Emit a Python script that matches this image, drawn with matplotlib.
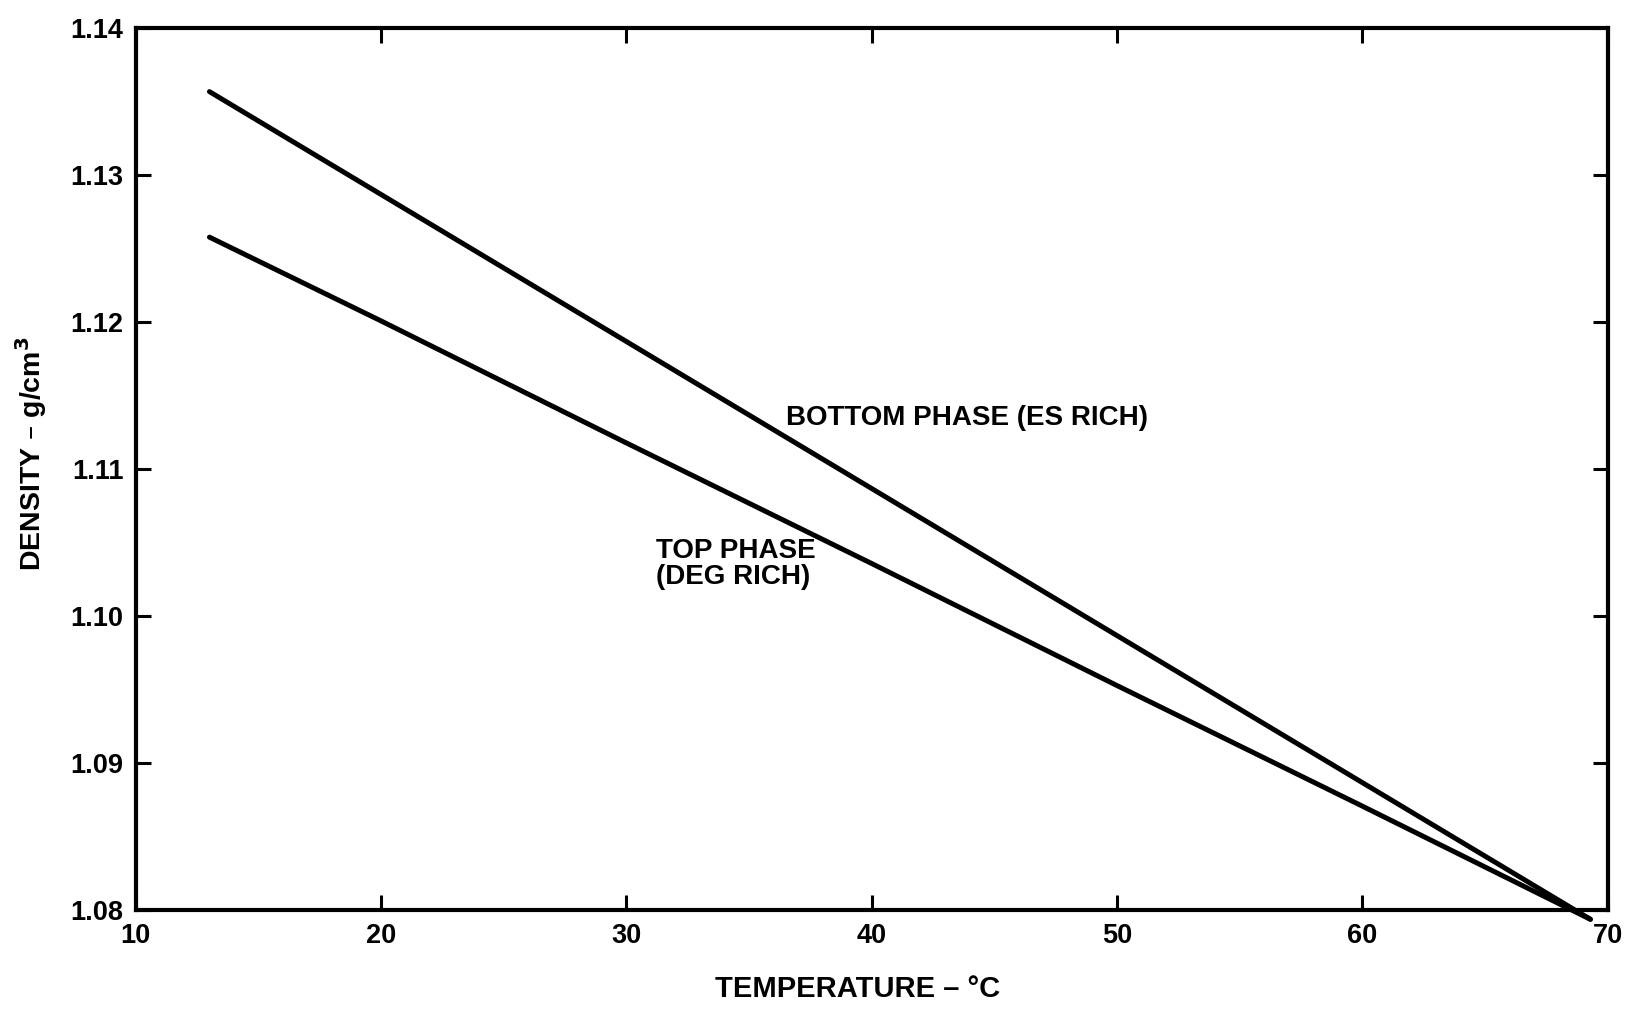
import numpy as np
import matplotlib
matplotlib.use("Agg")
import matplotlib.pyplot as plt

# ================================================
# DATA
# ================================================
temp_bottom = [13.0, 20.0, 30.0, 40.0, 50.0, 60.0, 69.3]
dens_bottom = [1.1357, 1.1287, 1.1187, 1.1087, 1.0987, 1.0887, 1.0794]

temp_top = [13.0, 20.0, 30.0, 40.0, 50.0, 60.0, 69.3]
dens_top = [1.1258, 1.1201, 1.1118, 1.1036, 1.0953, 1.0871, 1.0794]

x_ticks = [10, 20, 30, 40, 50, 60, 70]
y_ticks = [1.08, 1.09, 1.10, 1.11, 1.12, 1.13, 1.14]
y_labels = ["1.08", "1.09", "1.10", "1.11", "1.12", "1.13", "1.14"]

plt.rcParams['font.family'] = ['Liberation Sans', 'DejaVu Sans']
plt.rcParams['font.weight'] = 'bold'

fig = plt.figure(figsize=(16.37, 10.15), dpi=100)
ax = fig.add_axes([0.083, 0.103, 0.899, 0.869])

ax.plot(temp_bottom, dens_bottom, color='black', lw=3.6,
        solid_capstyle='round', clip_on=False)
ax.plot(temp_top, dens_top, color='black', lw=3.6,
        solid_capstyle='round', clip_on=False)

ax.set_xlim(10, 70)
ax.set_ylim(1.08, 1.14)
ax.set_xticks(x_ticks)
ax.set_yticks(y_ticks)
ax.set_yticklabels(y_labels)

for s in ax.spines.values():
    s.set_linewidth(3.0)

ax.tick_params(direction='in', length=11, width=2.2, labelsize=19.5,
               top=True, right=True, pad=9)
for lbl in ax.get_xticklabels() + ax.get_yticklabels():
    lbl.set_fontweight('bold')

# ================================================
# LABELS
# ================================================
ax.text(36.5, 1.1135, "BOTTOM PHASE (ES RICH)", fontsize=20, fontweight='bold',
        ha='left', va='center')
ax.text(31.2, 1.1036, "TOP PHASE\n(DEG RICH)", fontsize=20, fontweight='bold',
        ha='left', va='center', linespacing=1.0)

fig.text(0.524, 0.026, "TEMPERATURE \u2013 \u00b0C", fontsize=21, fontweight='bold',
         ha='center', va='center')
fig.text(0.019, 0.553, "DENSITY \u2013 g/cm$^\\mathbf{3}$", fontsize=20.5, fontweight='bold',
         ha='center', va='center', rotation=90)

fig.savefig("out.png", dpi=100)
